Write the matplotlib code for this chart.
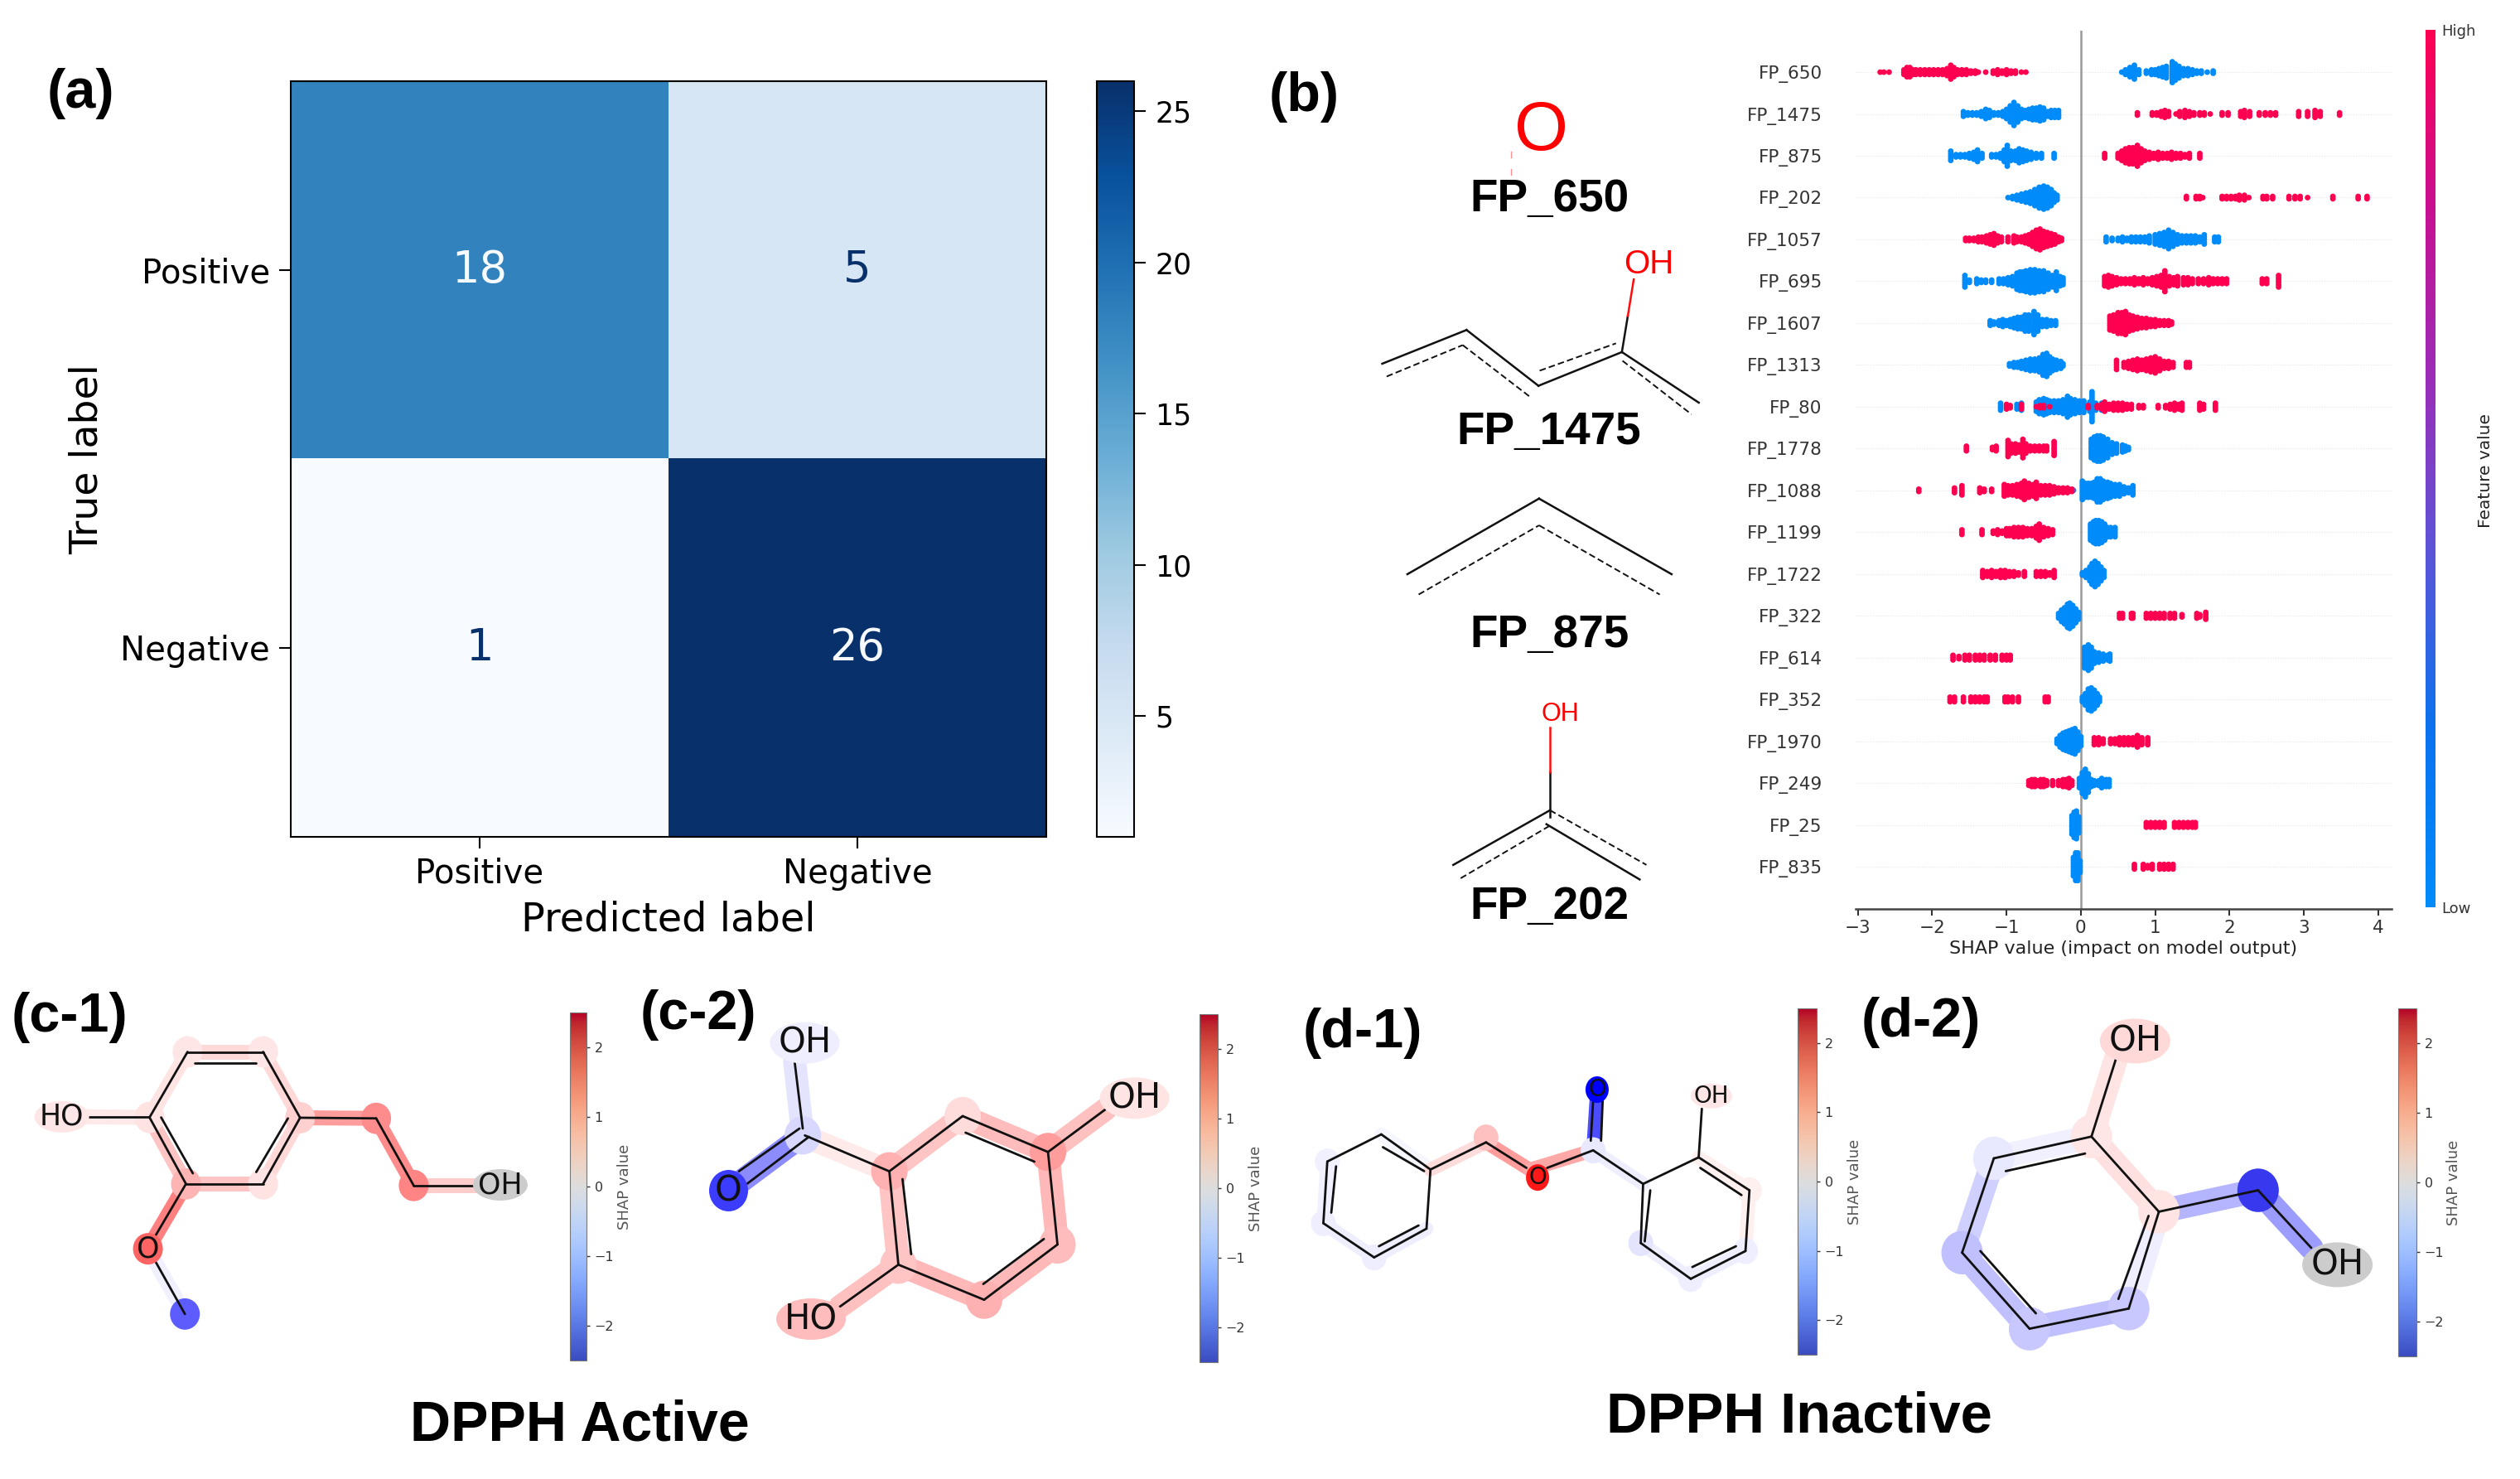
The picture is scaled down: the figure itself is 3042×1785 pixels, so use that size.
import numpy as np
import matplotlib
matplotlib.use("Agg")
import matplotlib.pyplot as plt
from matplotlib.cm import ScalarMappable
from matplotlib.colors import LinearSegmentedColormap, Normalize
from matplotlib.patches import Ellipse

W, H = 3042, 1785

# (a) confusion matrix
cm_labels = ["Positive", "Negative"]
cm_values = [[18, 5], [1, 26]]

# (b) summary plot, top row first; x = SHAP value, n = how many points stack there
features = ["FP_650", "FP_1475", "FP_875", "FP_202", "FP_1057", "FP_695", "FP_1607", "FP_1313", "FP_80", "FP_1778",
            "FP_1088", "FP_1199", "FP_1722", "FP_322", "FP_614", "FP_352", "FP_1970", "FP_249", "FP_25", "FP_835"]

high_x = [
    [-2.70, -2.65, -2.58, -2.38, -2.34, -2.30, -2.26, -2.22, -2.16, -2.10, -2.04, -1.98, -1.92, -1.86, -1.80, -1.75, -1.71, -1.66, -1.60, -1.54, -1.48, -1.42, -1.38, -1.28, -1.18, -1.12, -1.06, -1.00, -0.94, -0.88, -0.80, -0.74],
    [0.76, 0.96, 1.02, 1.08, 1.13, 1.18, 1.28, 1.33, 1.40, 1.46, 1.52, 1.60, 1.66, 1.74, 1.90, 1.98, 2.15, 2.20, 2.27, 2.40, 2.48, 2.55, 2.62, 2.93, 3.05, 3.15, 3.22, 3.48],
    [0.32, 0.50, 0.55, 0.60, 0.65, 0.70, 0.76, 0.81, 0.86, 0.92, 0.98, 1.04, 1.10, 1.16, 1.22, 1.28, 1.34, 1.40, 1.46, 1.60],
    [1.42, 1.55, 1.60, 1.64, 1.90, 1.96, 2.02, 2.08, 2.13, 2.20, 2.26, 2.45, 2.50, 2.58, 2.80, 2.88, 2.95, 3.05, 3.39, 3.73, 3.85],
    [-1.55, -1.50, -1.44, -1.38, -1.33, -1.27, -1.22, -1.17, -1.12, -1.07, -0.98, -0.90, -0.86, -0.80, -0.75, -0.70, -0.65, -0.60, -0.55, -0.50, -0.45, -0.40, -0.35, -0.30, -0.26],
    [0.32, 0.37, 0.42, 0.48, 0.54, 0.60, 0.66, 0.72, 0.78, 0.84, 0.90, 0.96, 1.02, 1.08, 1.13, 1.19, 1.25, 1.30, 1.38, 1.44, 1.50, 1.58, 1.65, 1.72, 1.78, 1.84, 1.90, 1.96, 2.44, 2.50, 2.66],
    [0.39, 0.44, 0.50, 0.55, 0.60, 0.65, 0.70, 0.76, 0.82, 0.88, 0.94, 1.00, 1.06, 1.12, 1.18, 1.22],
    [0.48, 0.58, 0.64, 0.70, 0.76, 0.82, 0.88, 0.94, 1.00, 1.06, 1.12, 1.18, 1.24, 1.42, 1.46],
    [-1.00, -0.95, -0.80, -0.60, -0.55, -0.50, -0.42, 0.10, 0.22, 0.28, 0.32, 0.38, 0.44, 0.50, 0.56, 0.62, 0.68, 0.78, 0.84, 1.04, 1.14, 1.20, 1.26, 1.32, 1.36, 1.60, 1.65, 1.81],
    [-1.54, -1.19, -1.14, -0.98, -0.94, -0.88, -0.83, -0.78, -0.74, -0.68, -0.62, -0.56, -0.50, -0.46, -0.36],
    [-2.18, -1.70, -1.60, -1.36, -1.30, -1.20, -1.03, -0.98, -0.92, -0.86, -0.80, -0.76, -0.70, -0.64, -0.60, -0.54, -0.48, -0.42, -0.36, -0.30, -0.24, -0.18, -0.12],
    [-1.60, -1.33, -1.18, -1.12, -1.06, -1.00, -0.96, -0.90, -0.84, -0.78, -0.72, -0.66, -0.60, -0.56, -0.50, -0.44, -0.38],
    [-1.32, -1.26, -1.20, -1.14, -1.08, -1.02, -0.96, -0.90, -0.84, -0.76, -0.60, -0.54, -0.48, -0.42, -0.36],
    [0.52, 0.56, 0.68, 0.70, 0.88, 0.94, 1.00, 1.06, 1.12, 1.20, 1.26, 1.36, 1.56, 1.60, 1.68],
    [-1.72, -1.64, -1.56, -1.50, -1.42, -1.36, -1.30, -1.22, -1.15, -1.06, -1.00, -0.95],
    [-1.76, -1.70, -1.58, -1.48, -1.42, -1.36, -1.30, -1.26, -1.02, -0.98, -0.92, -0.84, -0.48, -0.44],
    [0.18, 0.24, 0.30, 0.40, 0.46, 0.52, 0.58, 0.64, 0.70, 0.76, 0.82, 0.90],
    [-0.70, -0.66, -0.62, -0.58, -0.54, -0.50, -0.46, -0.38, -0.30, -0.24, -0.20, -0.16, -0.12],
    [0.88, 0.94, 1.00, 1.06, 1.12, 1.26, 1.32, 1.38, 1.44, 1.50, 1.54],
    [0.72, 0.84, 0.90, 0.96, 1.06, 1.12, 1.18, 1.24],
]
high_n = [
    [1, 1, 1, 3, 5, 5, 3, 3, 3, 3, 3, 3, 3, 3, 4, 7, 5, 3, 3, 3, 2, 2, 1, 1, 2, 3, 2, 3, 2, 2, 1, 1],
    [2, 2, 2, 3, 4, 3, 1, 3, 4, 3, 2, 2, 2, 1, 2, 2, 3, 4, 3, 2, 2, 2, 2, 3, 3, 4, 3, 2],
    [3, 3, 5, 7, 8, 8, 10, 7, 5, 4, 3, 4, 3, 3, 4, 3, 3, 2, 3, 3],
    [2, 2, 2, 1, 2, 2, 2, 2, 3, 3, 1, 2, 2, 2, 2, 2, 2, 1, 2, 2, 2],
    [2, 2, 2, 3, 3, 4, 5, 6, 4, 3, 3, 4, 3, 3, 4, 5, 7, 9, 10, 8, 7, 6, 5, 3, 2],
    [5, 6, 5, 4, 3, 3, 3, 4, 3, 4, 3, 4, 5, 6, 10, 5, 4, 5, 4, 4, 3, 3, 3, 4, 3, 3, 3, 3, 3, 3, 6],
    [7, 8, 10, 10, 11, 8, 7, 6, 5, 5, 4, 4, 3, 3, 3, 2],
    [5, 3, 4, 5, 6, 5, 6, 7, 8, 6, 4, 4, 3, 3, 3],
    [3, 2, 3, 1, 2, 2, 1, 2, 2, 3, 5, 3, 4, 4, 4, 3, 3, 2, 2, 2, 2, 3, 4, 3, 4, 4, 3, 4],
    [3, 2, 3, 8, 5, 5, 4, 9, 5, 3, 3, 3, 3, 3, 7],
    [2, 3, 5, 3, 2, 2, 6, 5, 5, 6, 7, 9, 7, 6, 8, 5, 5, 5, 4, 3, 3, 3, 2],
    [3, 3, 2, 3, 2, 4, 4, 5, 5, 5, 4, 4, 6, 8, 5, 4, 3],
    [4, 3, 4, 3, 4, 4, 3, 3, 2, 3, 3, 3, 3, 2, 4],
    [3, 3, 3, 3, 3, 3, 3, 3, 3, 3, 3, 2, 3, 2, 4],
    [3, 2, 3, 3, 3, 3, 3, 3, 3, 3, 3, 3],
    [3, 3, 3, 3, 3, 3, 3, 3, 3, 3, 3, 3, 3, 3],
    [4, 4, 3, 3, 3, 4, 4, 4, 4, 6, 4, 4],
    [3, 4, 4, 3, 4, 4, 3, 3, 3, 4, 4, 5, 3],
    [3, 3, 3, 3, 3, 3, 3, 3, 3, 3, 3],
    [3, 3, 2, 3, 3, 3, 3, 3],
]
low_x = [
    [0.55, 0.60, 0.66, 0.72, 0.78, 0.88, 0.95, 1.00, 1.05, 1.10, 1.15, 1.23, 1.27, 1.32, 1.38, 1.44, 1.50, 1.56, 1.62, 1.70, 1.78],
    [-1.58, -1.52, -1.46, -1.40, -1.34, -1.28, -1.23, -1.17, -1.11, -1.05, -1.00, -0.95, -0.90, -0.85, -0.80, -0.75, -0.70, -0.65, -0.60, -0.55, -0.50, -0.45, -0.40, -0.35, -0.30],
    [-1.75, -1.68, -1.62, -1.56, -1.50, -1.44, -1.39, -1.33, -1.20, -1.14, -1.08, -1.03, -0.99, -0.94, -0.88, -0.83, -0.78, -0.73, -0.67, -0.60, -0.53, -0.36],
    [-0.98, -0.92, -0.86, -0.80, -0.74, -0.68, -0.62, -0.56, -0.50, -0.45, -0.40, -0.36, -0.32],
    [0.34, 0.42, 0.50, 0.56, 0.62, 0.68, 0.74, 0.80, 0.86, 0.92, 1.00, 1.06, 1.12, 1.18, 1.24, 1.30, 1.36, 1.42, 1.48, 1.54, 1.60, 1.66, 1.80, 1.85],
    [-1.56, -1.50, -1.40, -1.34, -1.28, -1.20, -1.10, -1.04, -0.98, -0.92, -0.86, -0.82, -0.78, -0.74, -0.68, -0.62, -0.56, -0.50, -0.44, -0.38, -0.33, -0.28, -0.24],
    [-1.22, -1.17, -1.10, -1.05, -1.00, -0.95, -0.90, -0.85, -0.80, -0.75, -0.70, -0.63, -0.58, -0.52, -0.46, -0.40, -0.34],
    [-0.96, -0.90, -0.85, -0.80, -0.74, -0.68, -0.62, -0.56, -0.51, -0.46, -0.42, -0.38, -0.33, -0.27, -0.24],
    [-1.08, -1.00, -0.86, -0.80, -0.60, -0.56, -0.50, -0.46, -0.42, -0.36, -0.30, -0.24, -0.18, -0.14, -0.08, -0.02, 0.04, 0.12, 0.15, 0.20, 0.28, 0.34],
    [0.14, 0.18, 0.22, 0.26, 0.30, 0.36, 0.42, 0.48, 0.56, 0.60, 0.64],
    [-0.10, 0.02, 0.06, 0.10, 0.14, 0.18, 0.22, 0.26, 0.30, 0.36, 0.40, 0.46, 0.52, 0.58, 0.64, 0.70],
    [0.13, 0.17, 0.20, 0.24, 0.28, 0.32, 0.36, 0.40, 0.46],
    [0.02, 0.07, 0.12, 0.15, 0.19, 0.23, 0.27, 0.31],
    [-0.30, -0.26, -0.22, -0.18, -0.15, -0.11, -0.07, -0.03],
    [0.05, 0.10, 0.14, 0.18, 0.24, 0.30, 0.36, 0.39],
    [0.02, 0.06, 0.10, 0.14, 0.18, 0.22, 0.25],
    [-0.32, -0.28, -0.24, -0.20, -0.16, -0.12, -0.08, -0.04, 0.00],
    [-0.02, 0.02, 0.06, 0.10, 0.14, 0.18, 0.24, 0.28, 0.34, 0.38],
    [-0.12, -0.09, -0.06, -0.03],
    [-0.10, -0.07, -0.04, -0.01],
]
low_n = [
    [1, 3, 5, 7, 3, 2, 3, 3, 4, 5, 6, 10, 8, 6, 4, 4, 3, 2, 2, 1, 2],
    [3, 2, 2, 2, 3, 5, 4, 2, 2, 3, 5, 8, 11, 8, 5, 4, 5, 6, 6, 7, 6, 3, 4, 4, 4],
    [5, 2, 2, 2, 3, 4, 6, 3, 2, 2, 3, 6, 10, 5, 5, 7, 6, 5, 4, 3, 3, 3],
    [1, 2, 3, 4, 5, 6, 8, 10, 11, 10, 8, 5, 3],
    [3, 2, 2, 3, 2, 3, 3, 3, 3, 4, 5, 6, 7, 9, 7, 5, 4, 4, 4, 4, 3, 5, 3, 3],
    [6, 2, 3, 2, 2, 2, 3, 3, 4, 5, 8, 9, 9, 10, 11, 11, 10, 10, 8, 6, 9, 5, 4],
    [3, 2, 3, 4, 3, 4, 5, 6, 6, 8, 8, 11, 8, 4, 4, 3, 3],
    [2, 3, 3, 4, 5, 6, 6, 7, 10, 11, 8, 6, 5, 4, 2],
    [4, 2, 3, 4, 5, 7, 8, 7, 6, 6, 6, 7, 10, 8, 7, 6, 6, 5, 14, 4, 4, 3],
    [9, 11, 12, 12, 11, 9, 6, 5, 4, 3, 2],
    [1, 9, 7, 7, 7, 8, 11, 11, 9, 8, 7, 6, 6, 4, 3, 5],
    [8, 10, 11, 11, 10, 8, 5, 5, 5],
    [2, 4, 7, 10, 12, 10, 7, 4],
    [3, 6, 8, 11, 12, 10, 7, 4],
    [10, 12, 10, 6, 5, 4, 3, 4],
    [3, 6, 10, 11, 9, 6, 3],
    [3, 6, 8, 9, 10, 11, 12, 9, 5],
    [5, 10, 13, 9, 4, 3, 3, 5, 4, 4],
    [9, 12, 13, 8],
    [9, 13, 13, 6],
]
shap_ticks = [-3, -2, -1, 0, 1, 2, 3, 4]
cbar_ticks = [-2, -1, 0, 1, 2]

# molecule drawings are written in crop coordinates: crop = (left, top, x scale, y scale)
c1_crop = (0, 1180, 1.568, 2.592)
c1_glow = [(355, 232, 498, 232, "#ffd8d8"), (498, 232, 568, 438, "#ffd8d8"), (568, 438, 498, 645, "#ffd8d8"),
           (498, 645, 352, 645, "#ffc4c4"), (352, 645, 283, 437, "#ffc4c4"), (283, 437, 355, 232, "#ffe4e4"),
           (283, 437, 160, 435, "#ffe8e8"), (568, 438, 712, 440, "#ff9c9c"), (712, 440, 783, 650, "#ff8c8c"),
           (783, 650, 905, 650, "#ffcccc"), (352, 645, 280, 848, "#ff8080"), (280, 848, 350, 1052, "#f0f0ff")]
c1_atoms = [(355, 232, "#ffe6e6"), (498, 232, "#ffe6e6"), (568, 438, "#ffd0d0"), (498, 645, "#ffe2e2"),
            (352, 645, "#ffb4b4"), (283, 437, "#ffe2e2"), (712, 440, "#ff8c8c"), (783, 650, "#ff8484"),
            (350, 1052, "#5c5cff")]
c1_bonds = [(355, 232, 498, 232), (368, 268, 485, 268), (498, 232, 568, 438), (568, 438, 498, 645), (545, 440, 485, 608),
            (498, 645, 352, 645), (352, 645, 283, 437), (305, 437, 365, 612), (283, 437, 355, 232), (283, 435, 162, 435),
            (568, 438, 712, 440), (712, 440, 783, 650), (783, 650, 905, 650), (352, 645, 295, 805), (295, 890, 350, 1052)]
c1_labels = [(117, 435, "HO", "#ffe6e6", 66, 38), (947, 648, "OH", "#cccccc", 66, 38), (280, 848, "O", "#ff6464", 36, 38)]

c2_crop = (780, 1207, 2.01, 3.0)
c2_glow = [(590, 620, 768, 420, "#ffc4c4"), (768, 420, 975, 550, "#ffbcbc"), (975, 550, 998, 885, "#ffb8b8"),
           (998, 885, 820, 1085, "#ffb8b8"), (820, 1085, 612, 958, "#ffb8b8"), (612, 958, 590, 620, "#ffc4c4"),
           (380, 490, 590, 620, "#ffeaea"), (380, 490, 200, 690, "#8c8cff"), (380, 490, 360, 220, "#e4e4ff"),
           (975, 550, 1115, 395, "#ffc0c0"), (612, 958, 470, 1110, "#ffc0c0")]
c2_atoms = [(590, 620, "#ffb0b0"), (768, 420, "#ffdcdc"), (975, 550, "#ff9c9c"), (998, 885, "#ffbcbc"),
            (820, 1085, "#ffb0b0"), (612, 958, "#ffc4c4"), (380, 490, "#d8d8ff")]
c2_bonds = [(590, 620, 768, 420), (768, 420, 975, 550), (775, 480, 942, 585), (975, 550, 998, 885), (998, 885, 820, 1085),
            (965, 865, 818, 1028), (820, 1085, 612, 958), (612, 958, 590, 620), (622, 648, 643, 920), (385, 490, 590, 620),
            (372, 465, 225, 620), (395, 495, 245, 665), (360, 220, 380, 465), (975, 550, 1115, 395), (612, 958, 470, 1110)]
c2_labels = [(385, 155, "OH", "#eeeeff", 84, 50), (1185, 355, "OH", "#ffe4e4", 84, 50), (400, 1155, "HO", "#ffbcbc", 84, 50),
             (200, 690, "O", "#3c3cff", 47, 50)]

d1_crop = (1540, 1180, 1.044, 2.592)
d1_glow = [(133, 490, 195, 600, "#f6f6ff"), (190, 785, 124, 875, "#eeeeff"), (124, 875, 60, 768, "#eeeeff"), (60, 768, 65, 575, "#f0f0ff"),
           (195, 600, 265, 515, "#ffdcdc"), (265, 515, 320, 600, "#ff9c9c"), (320, 600, 400, 540, "#ffa8a8"), (400, 540, 405, 350, "#4c4cff"),
           (400, 540, 463, 645, "#eeeeff"), (597, 665, 592, 855, "#fff0f0"), (592, 855, 523, 942, "#eeeeff"), (523, 942, 460, 830, "#eeeeff"),
           (533, 562, 597, 665, "#fff0f0")]
d1_atoms = [(265, 500, "#ffc0c0"), (60, 768, "#eeeeff"), (65, 575, "#f0f0ff"), (124, 875, "#eeeeff"), (400, 540, "#e8e8ff"),
            (460, 830, "#e4e4ff"), (523, 942, "#eeeeff"), (592, 855, "#eeeeff"), (597, 665, "#fff0f0")]
d1_bonds = [(133, 490, 195, 600), (135, 530, 187, 605), (195, 600, 190, 785), (190, 785, 124, 875), (180, 775, 130, 840), (124, 875, 60, 768),
            (60, 768, 65, 575), (70, 735, 76, 590), (65, 575, 133, 490), (195, 600, 265, 515), (265, 515, 316, 595), (342, 595, 400, 540),
            (397, 510, 400, 385), (410, 510, 412, 385), (400, 540, 463, 645), (463, 645, 533, 562), (533, 562, 597, 665), (535, 595, 587, 680),
            (597, 665, 592, 855), (592, 855, 523, 942), (580, 840, 525, 905), (523, 942, 460, 830), (460, 830, 463, 645), (472, 665, 465, 825),
            (533, 562, 537, 410)]
d1_labels = [(549, 370, "OH", "#ffe6e6", 50, 30), (330, 625, "O", "#ff1818", 28, 32), (405, 350, "O", "#0000ff", 28, 32)]

d2_crop = (1540, 1180, 1.044, 2.592)
d2_glow = [(1028, 497, 1113, 732, "#ffe0e0"), (1028, 497, 1060, 245, "#ffe4e4"), (1028, 497, 905, 565, "#f0f0ff"), (905, 565, 865, 860, "#d0d0ff"),
           (865, 860, 950, 1098, "#c0c0ff"), (950, 1098, 1075, 1035, "#c0c0ff"), (1075, 1035, 1113, 732, "#eeeeff"),
           (1113, 732, 1238, 665, "#b4b4ff"), (1238, 665, 1305, 845, "#9c9cff")]
d2_atoms = [(1238, 665, "#3838ee"), (865, 860, "#c0c0ff"), (950, 1098, "#c8c8ff"), (1075, 1035, "#c8c8ff"), (905, 565, "#e8e8ff"),
            (1028, 497, "#ffe6e6"), (1113, 732, "#ffe4e4")]
d2_bonds = [(1028, 497, 1113, 732), (1113, 732, 1075, 1035), (1100, 745, 1062, 1005), (1075, 1035, 950, 1098), (950, 1098, 865, 860),
            (958, 1050, 888, 855), (865, 860, 905, 565), (905, 565, 1028, 497), (920, 605, 1020, 550), (1028, 497, 1060, 245),
            (1113, 732, 1238, 665), (1238, 665, 1305, 845)]
d2_labels = [(1083, 198, "OH", "#ffd8d8", 85, 54), (1338, 898, "OH", "#cccccc", 85, 54)]

# fragments in panel b, crop = (1540, 60, 2.8, 1.425)
frag_crop = (1540, 60, 2.8, 1.425)
frag_solid = [(360, 540, 645, 482), (645, 482, 888, 578), (888, 578, 1170, 520), (1170, 520, 1430, 607), (1190, 458, 1170, 520),
              (445, 902, 890, 772), (890, 772, 1338, 902), (927, 1243, 927, 1320), (600, 1402, 927, 1308), (915, 1332, 1230, 1427)]
frag_dashed = [(375, 562, 632, 508), (632, 508, 862, 598), (892, 552, 1150, 505), (1172, 535, 1405, 627),
               (483, 937, 890, 818), (890, 818, 1298, 937), (625, 1425, 925, 1335), (927, 1308, 1253, 1402)]
frag_red = [(1210, 395, 1190, 458), (927, 1165, 927, 1243)]


def px_axes(x0, y0, x1, y1):
    return fig.add_axes([x0 / W, 1 - y1 / H, (x1 - x0) / W, (y1 - y0) / H])


def seg(crop, s):
    left, top, fx, fy = crop
    return [left + s[0] / fx, left + s[2] / fx], [top + s[1] / fy, top + s[3] / fy]


def draw_molecule(crop, glow, atoms, bonds, labels, glow_w, radius, size):
    left, top, fx, fy = crop
    for s in glow:
        xs, ys = seg(crop, s)
        bg.plot(xs, ys, color=s[4], lw=glow_w, solid_capstyle="round", zorder=1)
    for x, y, c in atoms:
        bg.add_patch(Ellipse((left + x / fx, top + y / fy), radius * 2, radius * 2.1, color=c, lw=0, zorder=2))
    for s in bonds:
        xs, ys = seg(crop, s)
        bg.plot(xs, ys, color="#111111", lw=2, solid_capstyle="round", zorder=3)
    for x, y, t, c, w, h in labels:
        bg.add_patch(Ellipse((left + x / fx, top + y / fy), w, h, color=c, lw=0, zorder=3.5))
        bg.text(left + x / fx, top + y / fy, t, fontsize=size, ha="center", va="center", color="#111111", zorder=4)


def shap_colorbar(x0, y0, x1, y1, label_x):
    cax = px_axes(x0, y0, x1, y1)
    cb = fig.colorbar(ScalarMappable(Normalize(-2.5, 2.5), "coolwarm"), cax=cax, ticks=cbar_ticks)
    cb.outline.set_edgecolor("#777777")
    cb.outline.set_linewidth(0.8)
    cax.tick_params(labelsize=11.5, length=3, width=1, pad=4, colors="#333333")
    bg.text(label_x, (y0 + y1) / 2, "SHAP value", rotation=90, fontsize=13, color="#555555", ha="center", va="center")


fig = plt.figure(figsize=(W / 100, H / 100), dpi=100, facecolor="white")

bg = fig.add_axes([0, 0, 1, 1])
bg.set_xlim(0, W)
bg.set_ylim(H, 0)
bg.axis("off")

# panel a
ax = px_axes(351, 98, 1263, 1010)
im = ax.imshow(cm_values, cmap="Blues", vmin=1, vmax=26, aspect="auto")
for i in range(2):
    for j in range(2):
        ax.text(j, i, str(cm_values[i][j]), ha="center", va="center", fontsize=38,
                color="#f7fbff" if cm_values[i][j] > 13 else "#08306b")
ax.set_xticks([0, 1], cm_labels)
ax.set_yticks([0, 1], cm_labels)
ax.tick_params(labelsize=29, length=10, width=1.5, pad=8)
ax.set_xlabel("Predicted label", fontsize=34.5, labelpad=8)
ax.set_ylabel("True label", fontsize=34, labelpad=13)
for sp in ax.spines.values():
    sp.set_linewidth(1.5)

cax = px_axes(1324, 98, 1369, 1010)
cb = fig.colorbar(im, cax=cax, ticks=[5, 10, 15, 20, 25])
cax.tick_params(labelsize=25, length=10, width=1.5, pad=8)
cb.outline.set_linewidth(1.5)

# panel b
shap_cmap = LinearSegmentedColormap.from_list("shap_rb", ["#008bfb", "#0a72ee", "#5a55d8", "#9a2db8", "#c80f90", "#ff0051"])
sx = px_axes(2240, 36.6, 2887, 1096.5)
row_step = 0.055
for i, name in enumerate(features):
    row = len(features) - 1 - i
    sx.axhline(row, color="#e6e6e6", lw=0.8, ls=":", zorder=0)
    for xs, ns, level in ((low_x[i], low_n[i], 0.0), (high_x[i], high_n[i], 1.0)):
        px, py = [], []
        for x, n in zip(xs, ns):
            for k in range(n):
                px.append(x)
                py.append(row + (k - (n - 1) / 2) * row_step)
        sx.scatter(px, py, c=[level] * len(px), cmap=shap_cmap, vmin=0, vmax=1, s=24, linewidths=0, zorder=3)
sx.axvline(0, color="#999999", lw=1.8, zorder=2)
sx.set_xlim(-3.03, 4.18)
sx.set_ylim(-1, 20)
sx.set_yticks(range(len(features)), features[::-1])
sx.set_xticks(shap_ticks)
sx.tick_params(axis="y", length=0, pad=29, labelsize=15.5, labelcolor="#333333")
sx.tick_params(axis="x", length=6, width=1.5, labelsize=15.5, labelcolor="#333333", color="#333333")
sx.set_xlabel("SHAP value (impact on model output)", fontsize=16, color="#222222", labelpad=4)
sx.patch.set_alpha(0)
for side in ("top", "left", "right"):
    sx.spines[side].set_visible(False)
sx.spines["bottom"].set_linewidth(1.8)
sx.spines["bottom"].set_color("#444444")

scax = px_axes(2928, 36, 2940, 1095)
scb = fig.colorbar(ScalarMappable(Normalize(0, 1), shap_cmap), cax=scax, ticks=[])
scb.outline.set_visible(False)
bg.text(2947, 38, "High", fontsize=13, va="center", color="#333333")
bg.text(2947, 1097, "Low", fontsize=13, va="center", color="#333333")
bg.text(3000, 568, "Feature value", rotation=90, fontsize=14.5, ha="center", va="center", color="#222222")

for s in frag_solid:
    xs, ys = seg(frag_crop, s)
    bg.plot(xs, ys, color="#111111", lw=1.8)
for s in frag_dashed:
    xs, ys = seg(frag_crop, s)
    bg.plot(xs, ys, color="#111111", lw=1.4, ls=(0, (4, 2)))
for s in frag_red:
    xs, ys = seg(frag_crop, s)
    bg.plot(xs, ys, color="#ff0d0d", lw=1.8)
bg.plot([1824, 1824], [183, 190], color="#ff9090", lw=1)
bg.plot([1824, 1824], [204, 211], color="#ff9090", lw=1)
bg.text(1860, 159, "O", family="Liberation Sans", fontsize=60, color="#ff0000", ha="center", va="center")
bg.text(1990, 319, "OH", family="Liberation Sans", fontsize=29, color="#ff0000", ha="center", va="center")
bg.text(1883, 862, "OH", family="Liberation Sans", fontsize=22, color="#ff0000", ha="center", va="center")
for label, base in (("FP_650", 255), ("FP_1475", 536), ("FP_875", 781), ("FP_202", 1109)):
    bg.text(1870, base, label, family="Liberation Sans", weight="bold", fontsize=39.5, ha="center", va="baseline")

# panels c and d
draw_molecule(c1_crop, c1_glow, c1_atoms, c1_bonds, c1_labels, 13, 18, 25)
draw_molecule(c2_crop, c2_glow, c2_atoms, c2_bonds, c2_labels, 20, 22, 30)
draw_molecule(d1_crop, d1_glow, d1_atoms, d1_bonds, d1_labels, 12, 15, 20)
draw_molecule(d2_crop, d2_glow, d2_atoms, d2_bonds, d2_labels, 21, 25, 30)
shap_colorbar(688, 1222, 708, 1642, 754)
shap_colorbar(1448, 1224, 1470, 1644, 1516)
shap_colorbar(2170, 1217, 2193, 1635, 2239)
shap_colorbar(2895, 1217, 2917, 1637, 2962)

for label, x, base in (("(a)", 57, 130), ("(b)", 1532, 134), ("(c-1)", 14, 1245), ("(c-2)", 773, 1242),
                       ("(d-1)", 1573, 1264), ("(d-2)", 2247, 1251)):
    bg.text(x, base, label, family="Liberation Sans", weight="bold", fontsize=48, va="baseline")
bg.text(700, 1738, "DPPH Active", family="Liberation Sans", weight="bold", fontsize=49, ha="center", va="baseline")
bg.text(2172, 1728, "DPPH Inactive", family="Liberation Sans", weight="bold", fontsize=49.5, ha="center", va="baseline")

fig.savefig("out.png", dpi=100)
